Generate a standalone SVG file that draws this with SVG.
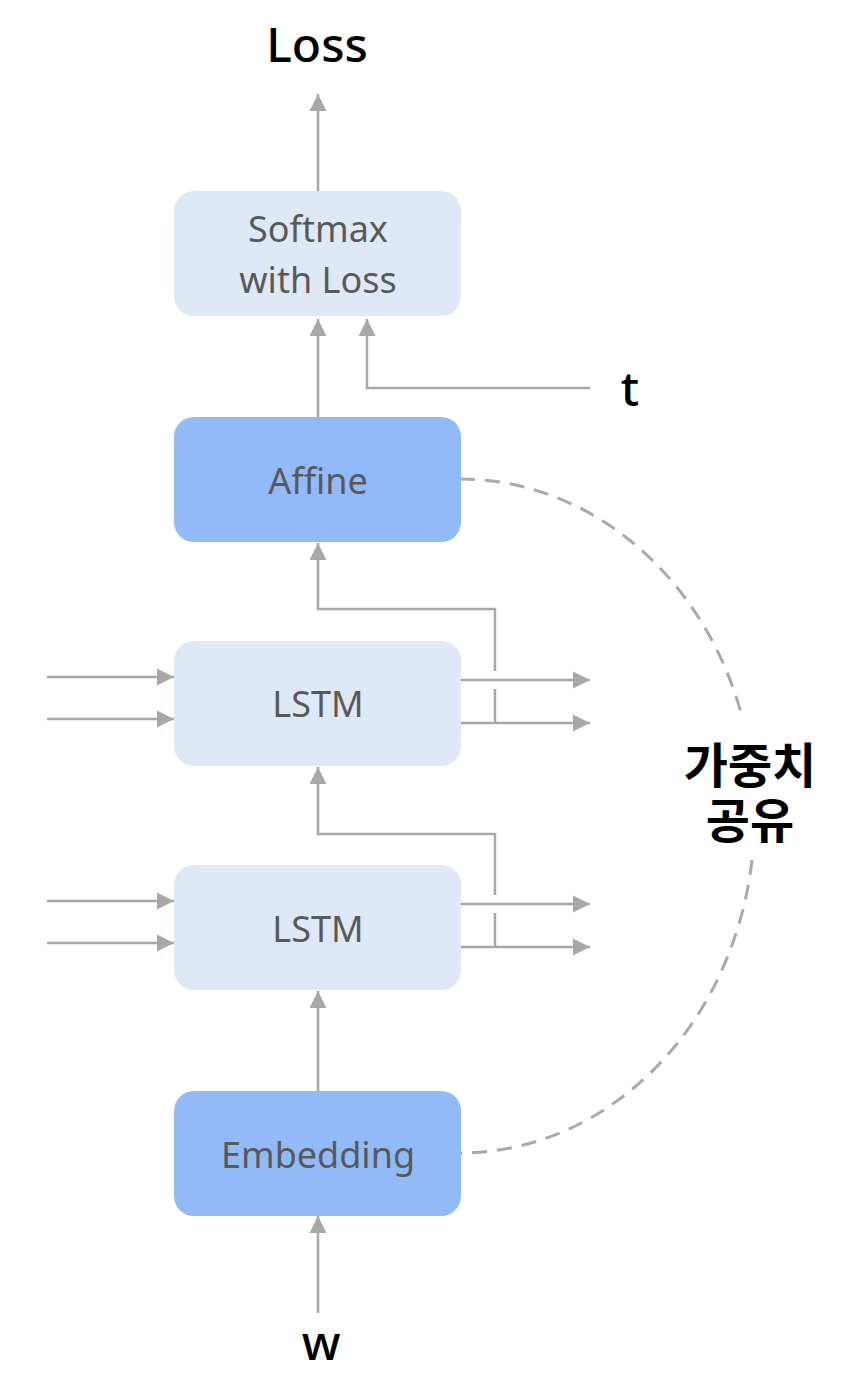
<svg xmlns="http://www.w3.org/2000/svg" width="848" height="1398" viewBox="0 0 848 1398">
<style>
.light{fill:#dfe9f6}
.dark{fill:#93baf8}
.lbl{font-family:"Noto Sans","Liberation Sans",sans-serif;font-size:36px;fill:#595959;text-anchor:middle}
.big{font-family:"Noto Sans","Liberation Sans",sans-serif;font-size:48px;font-weight:500;fill:#000;text-anchor:middle}
.kr{font-family:"Noto Sans CJK KR","Noto Sans",sans-serif;font-size:48px;font-weight:700;fill:#000;text-anchor:middle}
.c{fill:none;stroke:#a8a8a8;stroke-width:2.5}
.dash{fill:none;stroke:#aaaaaa;stroke-width:3;stroke-dasharray:15 10}
</style>
<defs>
<marker id="ah" markerUnits="userSpaceOnUse" markerWidth="18" markerHeight="18" viewBox="0 0 18 18" refX="17" refY="9" orient="auto">
<path d="M0,0.5 L17,9 L0,17.5 Z" fill="#a8a8a8"/>
</marker>
</defs>
<g id="connectors">
<path class="dash" d="M460 479 A295 337 0 0 1 743 720"/>
<path class="dash" d="M752 860 A295 337 0 0 1 460 1153"/>
<line class="c" x1="318" y1="191" x2="318" y2="94" marker-end="url(#ah)"/>
<line class="c" x1="318" y1="417" x2="318" y2="319" marker-end="url(#ah)"/>
<path class="c" d="M590 388 H367 V319" marker-end="url(#ah)"/>
<line class="c" x1="495" y1="723" x2="495" y2="689"/>
<path class="c" d="M495 671 V609 H318 V543" marker-end="url(#ah)"/>
<line class="c" x1="460" y1="680" x2="590" y2="680" marker-end="url(#ah)"/>
<line class="c" x1="460" y1="723" x2="590" y2="723" marker-end="url(#ah)"/>
<line class="c" x1="47" y1="677" x2="174" y2="677" marker-end="url(#ah)"/>
<line class="c" x1="47" y1="719" x2="174" y2="719" marker-end="url(#ah)"/>
<line class="c" x1="495" y1="947" x2="495" y2="913"/>
<path class="c" d="M495 895 V834 H318 V767" marker-end="url(#ah)"/>
<line class="c" x1="460" y1="904" x2="590" y2="904" marker-end="url(#ah)"/>
<line class="c" x1="460" y1="947" x2="590" y2="947" marker-end="url(#ah)"/>
<line class="c" x1="47" y1="901" x2="174" y2="901" marker-end="url(#ah)"/>
<line class="c" x1="47" y1="943" x2="174" y2="943" marker-end="url(#ah)"/>
<line class="c" x1="318" y1="1091" x2="318" y2="991" marker-end="url(#ah)"/>
<line class="c" x1="318" y1="1313" x2="318" y2="1216" marker-end="url(#ah)"/>
</g>
<g id="softmax">
<rect class="light" x="174" y="191" width="287" height="125" rx="20"/>
<text class="lbl" x="318" y="242">Softmax</text>
<text class="lbl" x="318" y="293">with Loss</text>
</g>
<g id="affine">
<rect class="dark" x="174" y="417" width="287" height="125" rx="20"/>
<text class="lbl" x="318" y="494">Affine</text>
</g>
<g id="lstm1">
<rect class="light" x="174" y="641" width="287" height="125" rx="20"/>
<text class="lbl" x="318" y="717">LSTM</text>
</g>
<g id="lstm2">
<rect class="light" x="174" y="865" width="287" height="125" rx="20"/>
<text class="lbl" x="318" y="942">LSTM</text>
</g>
<g id="embedding">
<rect class="dark" x="174" y="1091" width="287" height="125" rx="20"/>
<text class="lbl" x="318" y="1168">Embedding</text>
</g>
<g id="loss"><text class="big" x="317" y="62">Loss</text></g>
<g id="t"><text class="big" x="630" y="406">t</text></g>
<g id="w"><text class="big" x="321" y="1360">w</text></g>
<g id="share">
<text class="kr" x="750" y="783">가중치</text>
<text class="kr" x="750" y="838">공유</text>
</g>
</svg>
